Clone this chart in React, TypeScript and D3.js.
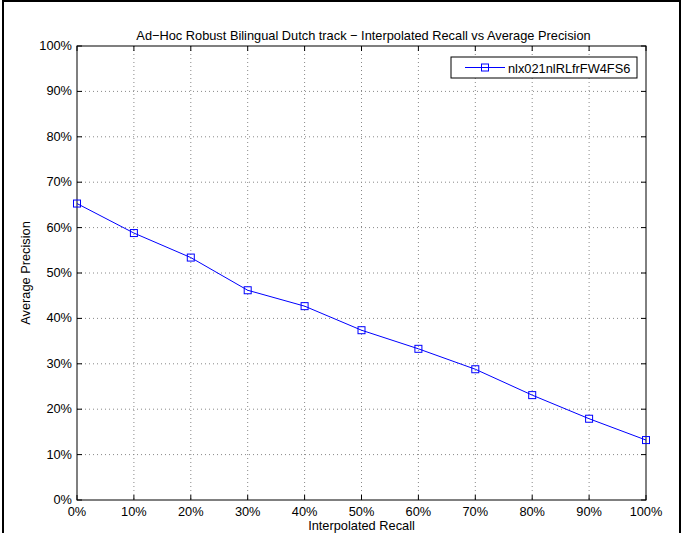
import React from "react";
import * as d3 from "d3";

const recall = [0, 0.1, 0.2, 0.3, 0.4, 0.5, 0.6, 0.7, 0.8, 0.9, 1.0];
const precision = [0.653, 0.588, 0.534, 0.462, 0.427, 0.374, 0.333, 0.288, 0.231, 0.179, 0.132];
const xTicks = [0, 0.1, 0.2, 0.3, 0.4, 0.5, 0.6, 0.7, 0.8, 0.9, 1.0];
const yTicks = [0, 0.1, 0.2, 0.3, 0.4, 0.5, 0.6, 0.7, 0.8, 0.9, 1.0];
const seriesName = "nlx021nlRLfrFW4FS6";
const title = "Ad\u2212Hoc Robust Bilingual Dutch track \u2212 Interpolated Recall vs Average Precision";

export default function App() {
  const W = 685, H = 533;
  const L = 77, R = 646, T = 46, B = 500;
  const x = d3.scaleLinear().domain([0, 1]).range([L, R]);
  const y = d3.scaleLinear().domain([0, 1]).range([B, T]);
  const fmt = (v: number) => `${Math.round(v * 100)}%`;
  const line = d3.line<number>().x((_, i) => x(recall[i])).y((d) => y(d));
  const font = "'Liberation Sans', Arial, sans-serif";
  const blue = "#0000ff";
  const tl = 5;
  const fs = 12.8;
  return (
    <svg width={W} height={H} style={{ position: "absolute", left: 0, top: 0 }} fontFamily={font}>
      <rect x={0} y={0} width={W} height={H} fill="#fff" />
      <rect x={3} y={1} width={677} height={533} fill="none" stroke="#000" strokeWidth={2} />
      {/* grid */}
      {xTicks.slice(1, -1).map((t) => (
        <line key={"gx" + t} x1={x(t)} x2={x(t)} y1={T} y2={B} stroke="#888" strokeWidth={1} strokeDasharray="1,3" />
      ))}
      {yTicks.slice(1, -1).map((t) => (
        <line key={"gy" + t} x1={L} x2={R} y1={y(t)} y2={y(t)} stroke="#888" strokeWidth={1} strokeDasharray="1,3" />
      ))}
      {/* ticks */}
      {xTicks.map((t) => (
        <g key={"tx" + t}>
          <line x1={x(t)} x2={x(t)} y1={B} y2={B - tl} stroke="#000" />
          <line x1={x(t)} x2={x(t)} y1={T} y2={T + tl} stroke="#000" />
          <text x={x(t)} y={516} fontSize={fs} textAnchor="middle">{fmt(t)}</text>
        </g>
      ))}
      {yTicks.map((t) => (
        <g key={"ty" + t}>
          <line x1={L} x2={L + tl} y1={y(t)} y2={y(t)} stroke="#000" />
          <line x1={R} x2={R - tl} y1={y(t)} y2={y(t)} stroke="#000" />
          <text x={L - 5} y={y(t) + 4} fontSize={fs} textAnchor="end">{fmt(t)}</text>
        </g>
      ))}
      <rect x={L} y={T} width={R - L} height={B - T} fill="none" stroke="#000" strokeWidth={1} />
      {/* series */}
      <path d={line(precision) || ""} fill="none" stroke={blue} strokeWidth={1} />
      {precision.map((p, i) => (
        <rect key={"m" + i} x={x(recall[i]) - 3.5} y={y(p) - 3.5} width={7} height={7} fill="none" stroke={blue} strokeWidth={1} />
      ))}
      {/* legend */}
      <rect x={451} y={57} width={186} height={21} fill="#fff" stroke="#000" strokeWidth={1} />
      <line x1={465} x2={505} y1={67.5} y2={67.5} stroke={blue} strokeWidth={1} />
      <rect x={481.5} y={64} width={7} height={7} fill="none" stroke={blue} strokeWidth={1} />
      <text x={508} y={72.5} fontSize={fs}>{seriesName}</text>
      {/* titles */}
      <text x={(L + R) / 2 + 2} y={40} fontSize={fs} textAnchor="middle">{title}</text>
      <text x={(L + R) / 2} y={530} fontSize={fs} textAnchor="middle">Interpolated Recall</text>
      <text transform={`translate(30,${(T + B) / 2}) rotate(-90)`} fontSize={fs} textAnchor="middle">Average Precision</text>
    </svg>
  );
}
